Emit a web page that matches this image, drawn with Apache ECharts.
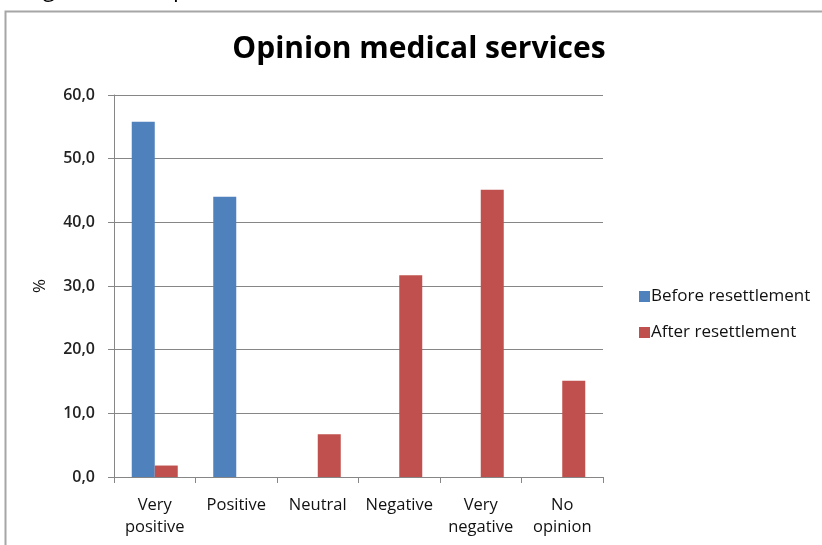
<!DOCTYPE html>
<html>
<head>
<meta charset="utf-8">
<script src="https://cdn.jsdelivr.net/npm/echarts@6/dist/echarts.min.js"></script>
<style>
  html, body { margin: 0; padding: 0; background: #fff; }
  #chart { width: 822px; height: 545px; }
</style>
</head>
<body>
<div id="chart"></div>
<script>
// Survey answers on medical services, percent of respondents
const categories = ['Very\npositive', 'Positive', 'Neutral', 'Negative', 'Very\nnegative', 'No\nopinion'];
const beforeValues = [55.8, 44.0, 0, 0, 0, 0];
const afterValues = [1.8, 0, 6.7, 31.7, 45.1, 15.1];
const seriesNames = ['Before resettlement', 'After resettlement'];
const yTicks = [0, 10, 20, 30, 40, 50, 60];

const FONT = 'Open Sans, sans-serif';
const chart = echarts.init(document.getElementById('chart'), null, { renderer: 'canvas' });

chart.setOption({
  backgroundColor: '#ffffff',
  animation: false,
  title: {
    text: 'Opinion medical services',
    left: 414,
    top: 29,
    textAlign: 'center',
    textStyle: { fontFamily: FONT, fontWeight: 'bold', fontSize: 30, color: '#000' }
  },
  graphic: [
    {
      type: 'rect',
      shape: { x: 5.5, y: 11.5, width: 900, height: 600 },
      style: { fill: 'none', stroke: '#a6a6a6', lineWidth: 2 },
      silent: true
    },
    {
      type: 'text',
      left: 25,
      top: -22,
      style: { text: 'Figure 12.3: Opinion medical services', font: '23px ' + FONT, fill: '#000' },
      silent: true
    }
  ],
  legend: {
    orient: 'vertical',
    left: 634,
    top: 283,
    itemWidth: 11,
    itemHeight: 11,
    itemGap: 19,
    icon: 'rect',
    textStyle: { fontFamily: FONT, fontSize: 17, color: '#111', padding: [0, 0, 0, -4] },
    data: seriesNames
  },
  grid: { left: 114, right: 219, top: 95, bottom: 68, containLabel: false },
  xAxis: {
    type: 'category',
    data: categories,
    axisLine: { lineStyle: { color: '#868686', width: 1 } },
    axisTick: { show: true, alignWithLabel: false, length: 6, lineStyle: { color: '#868686' } },
    axisLabel: { fontFamily: FONT, fontSize: 16.5, color: '#111', lineHeight: 22, margin: 17, interval: 0 },
    splitLine: { show: false }
  },
  yAxis: {
    type: 'value',
    min: yTicks[0],
    max: yTicks[yTicks.length - 1],
    interval: 10,
    name: '%',
    nameLocation: 'middle',
    nameGap: 65,
    nameRotate: 90,
    nameTextStyle: { fontFamily: FONT, fontSize: 17, color: '#111' },
    axisLine: { show: true, lineStyle: { color: '#868686' } },
    axisTick: { show: true, length: 6, lineStyle: { color: '#868686' } },
    axisLabel: {
      fontFamily: FONT, fontSize: 16, fontWeight: 600, color: '#222', margin: 19,
      formatter: v => v.toFixed(1).replace('.', ',')
    },
    splitLine: { show: true, lineStyle: { color: '#868686', width: 1 } }
  },
  series: [
    {
      name: seriesNames[0],
      type: 'bar',
      data: beforeValues,
      barWidth: 23,
      barGap: '0%',
      itemStyle: { color: '#4f81bd' }
    },
    {
      name: seriesNames[1],
      type: 'bar',
      data: afterValues,
      barWidth: 23,
      barGap: '0%',
      itemStyle: { color: '#c0504d' }
    }
  ]
});
</script>
</body>
</html>
